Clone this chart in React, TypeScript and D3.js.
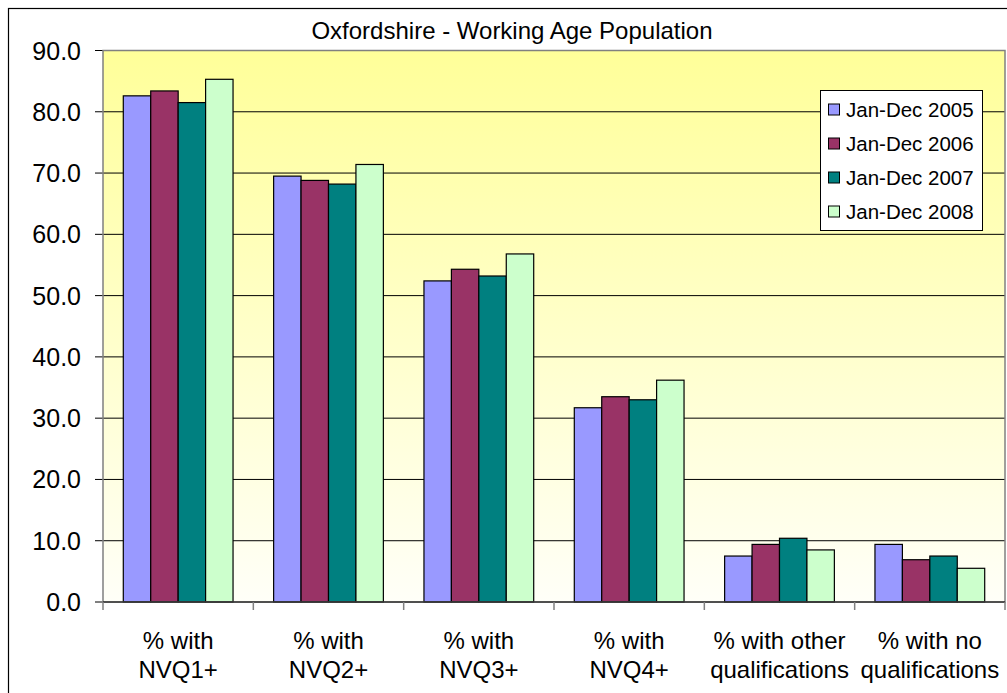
import * as d3 from "d3";

const categories = [
    ["% with", "NVQ1+"],
    ["% with", "NVQ2+"],
    ["% with", "NVQ3+"],
    ["% with", "NVQ4+"],
    ["% with other", "qualifications"],
    ["% with no", "qualifications"],
];
const seriesNames = ["Jan-Dec 2005", "Jan-Dec 2006", "Jan-Dec 2007", "Jan-Dec 2008"];
const seriesColors = ["#9999FF", "#993366", "#008080", "#CCFFCC"];
const values2005 = [82.6, 69.5, 52.4, 31.7, 7.5, 9.4];
const values2006 = [83.4, 68.8, 54.3, 33.5, 9.4, 6.9];
const values2007 = [81.5, 68.2, 53.2, 33.0, 10.4, 7.5];
const values2008 = [85.3, 71.4, 56.8, 36.2, 8.5, 5.5];
const yTicks = [0, 10, 20, 30, 40, 50, 60, 70, 80, 90];
const title = "Oxfordshire - Working Age Population";

const series = [values2005, values2006, values2007, values2008];

const W = 1007;
const H = 693;
const plot = { left: 103, top: 50.5, right: 1005, bottom: 602 };

export default function App() {
    const x0 = d3
        .scaleBand<number>()
        .domain(categories.map((_, i) => i))
        .range([plot.left, plot.right])
        .paddingInner(0.27)
        .paddingOuter(0.135);
    const x1 = d3
        .scaleBand<number>()
        .domain(series.map((_, i) => i))
        .range([0, x0.bandwidth()]);
    const y = d3.scaleLinear().domain([0, 90]).range([plot.bottom, plot.top]);
    const step = (plot.right - plot.left) / categories.length;

    return (
        <svg
            width={W}
            height={H}
            style={{ position: "absolute", left: 0, top: 0, fontFamily: "Arial, 'Liberation Sans', sans-serif" }}
        >
            <defs>
                <linearGradient id="bg" x1="0" y1="0" x2="0" y2="1">
                    <stop offset="0%" stopColor="#FFFF99" />
                    <stop offset="100%" stopColor="#FFFFF8" />
                </linearGradient>
            </defs>
            <rect x={0} y={0} width={W} height={H} fill="#fff" />
            {/* outer chart border */}
            <rect x={8.5} y={8.5} width={W + 10} height={H + 10} fill="none" stroke="#000" strokeWidth={1.2} />
            <text x={512} y={38.5} textAnchor="middle" fontSize={24} fill="#000">
                {title}
            </text>

            {/* plot area */}
            <rect
                x={plot.left}
                y={plot.top}
                width={plot.right - plot.left}
                height={plot.bottom - plot.top}
                fill="url(#bg)"
            />
            {/* gridlines */}
            {yTicks.slice(1).map((t) => (
                <line key={t} x1={plot.left} x2={plot.right} y1={y(t)} y2={y(t)} stroke="#000" strokeWidth={1} />
            ))}
            {/* y axis ticks and labels */}
            {yTicks.map((t) => (
                <g key={t}>
                    <line x1={95} x2={plot.left} y1={y(t)} y2={y(t)} stroke="#000" />
                    <text x={81} y={y(t)} dy="0.36em" textAnchor="end" fontSize={25} fill="#000">
                        {t.toFixed(1)}
                    </text>
                </g>
            ))}

            {/* bars */}
            {categories.map((_, ci) => (
                <g key={ci} transform={`translate(${x0(ci)},0)`}>
                    {series.map((vals, si) => (
                        <rect
                            key={si}
                            x={x1(si)}
                            y={y(vals[ci])}
                            width={x1.bandwidth()}
                            height={y(0) - y(vals[ci])}
                            fill={seriesColors[si]}
                            stroke="#000"
                            strokeWidth={1.2}
                        />
                    ))}
                </g>
            ))}

            {/* plot border */}
            <rect
                x={plot.left}
                y={plot.top}
                width={plot.right - plot.left}
                height={plot.bottom - plot.top}
                fill="none"
                stroke="#808080"
                strokeWidth={1.5}
            />
            <line x1={plot.left} x2={plot.right} y1={y(0)} y2={y(0)} stroke="#000" strokeWidth={1.2} />

            {/* x axis ticks and labels */}
            {d3.range(categories.length + 1).map((i) => (
                <line
                    key={i}
                    x1={plot.left + i * step}
                    x2={plot.left + i * step}
                    y1={plot.bottom}
                    y2={plot.bottom + 8}
                    stroke="#808080"
                    strokeWidth={1.5}
                />
            ))}
            {categories.map((lines, ci) => (
                <text
                    key={ci}
                    x={plot.left + (ci + 0.5) * step}
                    y={649}
                    textAnchor="middle"
                    fontSize={24}
                    fill="#000"
                >
                    {lines.map((l, li) => (
                        <tspan key={li} x={plot.left + (ci + 0.5) * step} dy={li === 0 ? 0 : 29}>
                            {l}
                        </tspan>
                    ))}
                </text>
            ))}

            {/* legend */}
            <g>
                <rect x={820.5} y={90.5} width={162} height={140} fill="#fff" stroke="#000" strokeWidth={1} />
                {seriesNames.map((name, si) => {
                    const cy = 109.5 + si * 34;
                    return (
                        <g key={si}>
                            <rect
                                x={828.5}
                                y={cy - 5.5}
                                width={11}
                                height={11}
                                fill={seriesColors[si]}
                                stroke="#000"
                                strokeWidth={1}
                            />
                            <text x={846} y={cy} dy="0.36em" fontSize={20.5} fill="#000">
                                {name}
                            </text>
                        </g>
                    );
                })}
            </g>
        </svg>
    );
}
